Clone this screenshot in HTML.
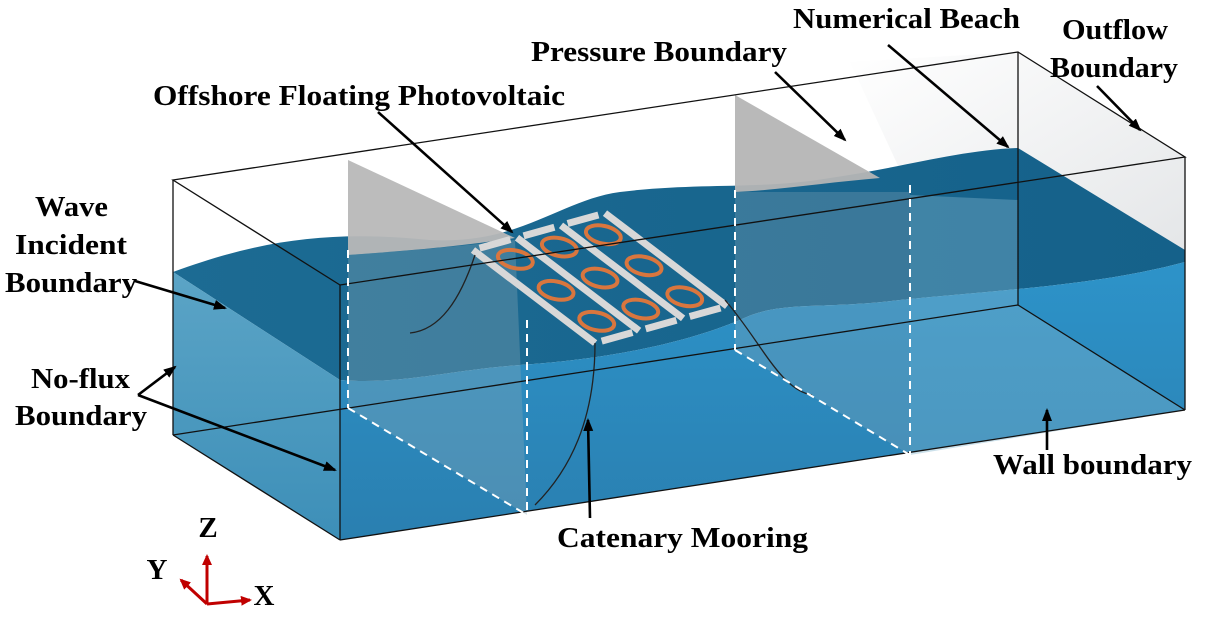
<!DOCTYPE html>
<html><head><meta charset="utf-8"><style>
html,body{margin:0;padding:0;background:#fff;}
svg{display:block;}
text{font-family:"Liberation Serif",serif;font-weight:bold;font-size:29px;fill:#000;}
</style></head><body>
<svg width="1212" height="619" viewBox="0 0 1212 619" xmlns="http://www.w3.org/2000/svg">
<defs>
<linearGradient id="front" x1="0" y1="0" x2="0" y2="1">
<stop offset="0" stop-color="#2d93c9"/><stop offset="1" stop-color="#2a7fb0"/></linearGradient>
<linearGradient id="left" x1="0" y1="0" x2="0" y2="1">
<stop offset="0" stop-color="#5ba4c6"/><stop offset="1" stop-color="#3d8fb8"/></linearGradient>
<linearGradient id="top" x1="0" y1="0" x2="1" y2="0">
<stop offset="0" stop-color="#1c6b93"/><stop offset="1" stop-color="#15618a"/></linearGradient>
<linearGradient id="beach" x1="0" y1="0" x2="1" y2="1">
<stop offset="0" stop-color="#ffffff"/><stop offset="1" stop-color="#e4e6e8"/></linearGradient>
<marker id="ah" markerWidth="14" markerHeight="14" refX="11" refY="7" orient="auto" markerUnits="userSpaceOnUse">
<path d="M0,2 L13,7 L0,12 z" fill="#000"/></marker>
<marker id="rh" markerWidth="12" markerHeight="12" refX="9" refY="6" orient="auto" markerUnits="userSpaceOnUse">
<path d="M0,1 L11,6 L0,11 z" fill="#c00000"/></marker>
</defs>

<polygon points="850,62 1018,52 1185,157 1185,252 1018,148 900,170" fill="url(#beach)"/>

<path d="M173,272 C260,240 330,230 430,240 C520,245 560,200 620,192 C700,182 760,190 830,178 C900,168 960,150 1018,148 L1185,250 L1185,262 C1100,285 1000,290 900,300 C820,310 780,300 740,320 C680,345 600,360 520,365 C450,370 400,385 340,380 Z" fill="url(#top)"/>
<path d="M173,272 L340,380 L340,540 L173,435 Z" fill="url(#left)"/>
<path d="M340,380 C400,385 450,370 520,365 C600,360 680,345 740,320 C780,300 820,310 900,300 C1000,290 1100,285 1185,262 L1185,410 L340,540 Z" fill="url(#front)"/>
<path d="M910,195 L1018,200 L1018,305 L1185,410 L910,455 Z" fill="#7fb3cc" opacity="0.4"/>

<path d="M348,160 L515,238 C470,245 420,250 348,255 Z" fill="#b8b8b8" opacity="0.95"/>
<path d="M348,255 C420,250 470,245 515,240 L527,515 L348,408 Z" fill="#8aa9b8" opacity="0.35"/>
<path d="M735,95 L880,178 C830,182 780,190 735,192 Z" fill="#b5b5b5" opacity="0.95"/>
<path d="M735,192 L910,192 L910,455 L735,350 Z" fill="#8aa9b8" opacity="0.3"/>

<g transform="matrix(44,-12.3,40.7,31,473,250)">
<g stroke="#d8d8d8" stroke-width="7" fill="none">
<line x1="0" y1="0" x2="0" y2="3" vector-effect="non-scaling-stroke"/>
<line x1="1" y1="0" x2="1" y2="3" vector-effect="non-scaling-stroke"/>
<line x1="2" y1="0" x2="2" y2="3" vector-effect="non-scaling-stroke"/>
<line x1="3" y1="0" x2="3" y2="3" vector-effect="non-scaling-stroke"/>
<line x1="0.15" y1="0" x2="0.85" y2="0" vector-effect="non-scaling-stroke"/>
<line x1="1.15" y1="0" x2="1.85" y2="0" vector-effect="non-scaling-stroke"/>
<line x1="2.15" y1="0" x2="2.85" y2="0" vector-effect="non-scaling-stroke"/>
<line x1="0.15" y1="3" x2="0.85" y2="3" vector-effect="non-scaling-stroke"/>
<line x1="1.15" y1="3" x2="1.85" y2="3" vector-effect="non-scaling-stroke"/>
<line x1="2.15" y1="3" x2="2.85" y2="3" vector-effect="non-scaling-stroke"/>
</g>
<g stroke="#d9763e" stroke-width="4" fill="none">
<ellipse cx="0.5" cy="0.5" rx="0.3" ry="0.28" vector-effect="non-scaling-stroke"/>
<ellipse cx="1.5" cy="0.5" rx="0.3" ry="0.28" vector-effect="non-scaling-stroke"/>
<ellipse cx="2.5" cy="0.5" rx="0.3" ry="0.28" vector-effect="non-scaling-stroke"/>
<ellipse cx="0.5" cy="1.5" rx="0.3" ry="0.28" vector-effect="non-scaling-stroke"/>
<ellipse cx="1.5" cy="1.5" rx="0.3" ry="0.28" vector-effect="non-scaling-stroke"/>
<ellipse cx="2.5" cy="1.5" rx="0.3" ry="0.28" vector-effect="non-scaling-stroke"/>
<ellipse cx="0.5" cy="2.5" rx="0.3" ry="0.28" vector-effect="non-scaling-stroke"/>
<ellipse cx="1.5" cy="2.5" rx="0.3" ry="0.28" vector-effect="non-scaling-stroke"/>
<ellipse cx="2.5" cy="2.5" rx="0.3" ry="0.28" vector-effect="non-scaling-stroke"/>
</g>
</g>

<g stroke="#222" stroke-width="1.3" fill="none">
<path d="M475,255 C460,300 440,330 410,333"/>
<path d="M595,343 C595,420 570,470 535,505"/>
<path d="M725,300 C760,340 780,390 812,395"/>
</g>

<g stroke="#111" stroke-width="1.3" fill="none">
<polygon points="173,180 1018,52 1185,157 340,285"/>
<line x1="173" y1="180" x2="173" y2="435"/>
<line x1="340" y1="285" x2="340" y2="540"/>
<line x1="1185" y1="157" x2="1185" y2="410"/>
<line x1="1018" y1="52" x2="1018" y2="305"/>
<line x1="173" y1="435" x2="1018" y2="305"/>
<line x1="340" y1="540" x2="1185" y2="410"/>
<line x1="173" y1="435" x2="340" y2="540"/>
<line x1="1018" y1="305" x2="1185" y2="410"/>
</g>
<g stroke="#fff" stroke-width="2" stroke-dasharray="8,6" fill="none">
<line x1="348" y1="250" x2="348" y2="408"/>
<line x1="348" y1="408" x2="527" y2="515"/>
<line x1="527" y1="320" x2="527" y2="515"/>
<line x1="735" y1="190" x2="735" y2="350"/>
<line x1="735" y1="350" x2="910" y2="455"/>
<line x1="910" y1="185" x2="910" y2="455"/>
</g>

<g stroke="#000" stroke-width="2.6" fill="none" marker-end="url(#ah)">
<line x1="888" y1="45" x2="1008" y2="147"/>
<line x1="1097" y1="86" x2="1140" y2="130"/>
<line x1="775" y1="72" x2="845" y2="140"/>
<line x1="378" y1="112" x2="512" y2="232"/>
<line x1="135" y1="281" x2="225" y2="308"/>
<line x1="138" y1="395" x2="175" y2="367"/>
<line x1="138" y1="395" x2="335" y2="470"/>
<line x1="1047" y1="450" x2="1047" y2="410"/>
<line x1="590" y1="518" x2="588" y2="420"/>
</g>

<text x="793" y="28" textLength="227" lengthAdjust="spacingAndGlyphs">Numerical Beach</text>
<text x="1062" y="39" textLength="106" lengthAdjust="spacingAndGlyphs">Outflow</text>
<text x="1050" y="77" textLength="128" lengthAdjust="spacingAndGlyphs">Boundary</text>
<text x="531" y="61" textLength="256" lengthAdjust="spacingAndGlyphs">Pressure Boundary</text>
<text x="153" y="105" textLength="412" lengthAdjust="spacingAndGlyphs">Offshore Floating Photovoltaic</text>
<text x="35" y="216" textLength="73" lengthAdjust="spacingAndGlyphs">Wave</text>
<text x="15" y="254" textLength="112" lengthAdjust="spacingAndGlyphs">Incident</text>
<text x="5" y="292" textLength="132" lengthAdjust="spacingAndGlyphs">Boundary</text>
<text x="31" y="388" textLength="99" lengthAdjust="spacingAndGlyphs">No-flux</text>
<text x="15" y="425" textLength="132" lengthAdjust="spacingAndGlyphs">Boundary</text>
<text x="993" y="474" textLength="199" lengthAdjust="spacingAndGlyphs">Wall boundary</text>
<text x="557" y="547" textLength="251" lengthAdjust="spacingAndGlyphs">Catenary Mooring</text>

<g stroke="#c00000" stroke-width="3" fill="none">
<line x1="207" y1="604" x2="207" y2="556" marker-end="url(#rh)"/>
<line x1="207" y1="604" x2="250" y2="600" marker-end="url(#rh)"/>
<line x1="207" y1="604" x2="181" y2="580" marker-end="url(#rh)"/>
</g>
<text x="208" y="537" text-anchor="middle">Z</text>
<text x="157" y="579" text-anchor="middle">Y</text>
<text x="264" y="605" text-anchor="middle">X</text>
</svg>
</body></html>
